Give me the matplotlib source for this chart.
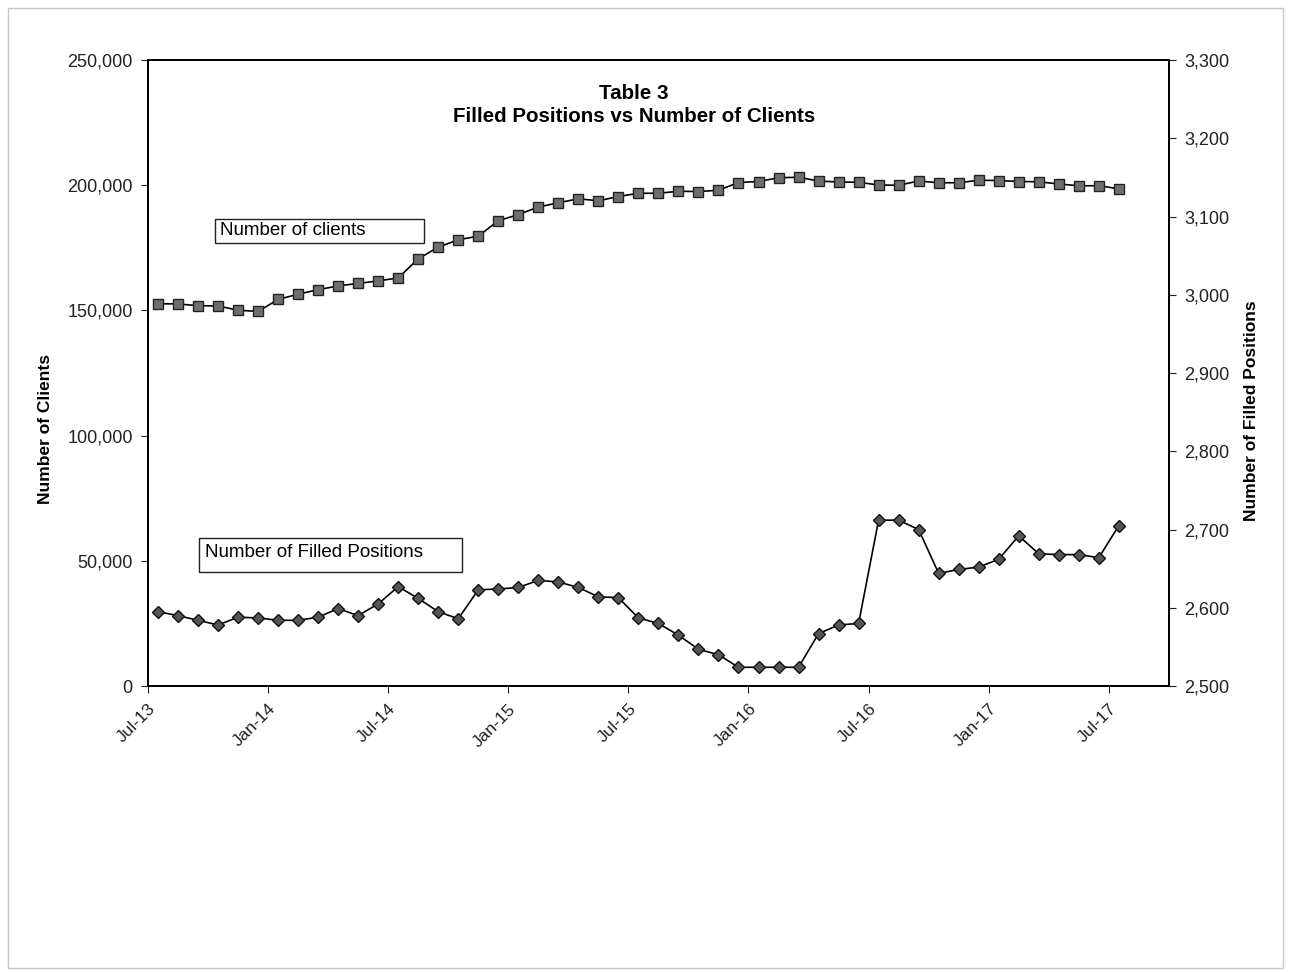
import matplotlib
matplotlib.use("Agg")
import matplotlib.pyplot as plt
from matplotlib.patches import Rectangle
from matplotlib.ticker import FuncFormatter

plt.rcParams['font.family'] = ['Liberation Sans', 'DejaVu Sans']

# monthly data, Jul-13 .. Jul-17
months = list(range(49))
tick_pos = [0, 6, 12, 18, 24, 30, 36, 42, 48]
tick_labels = ["Jul-13", "Jan-14", "Jul-14", "Jan-15", "Jul-15",
               "Jan-16", "Jul-16", "Jan-17", "Jul-17"]

clients = [152700, 152600, 151900, 151800, 150100, 149600, 154400, 156500,
           158300, 159800, 160800, 161800, 163000, 170600, 175300, 178200,
           179700, 185800, 188300, 191300, 193000, 194600, 193800, 195500,
           196800, 196800, 197600, 197500, 198000, 201100, 201500, 203000,
           203200, 201700, 201300, 201200, 200100, 200000, 201700, 201000,
           201000, 202000, 201900, 201500, 201400, 200500, 199800, 199800,
           198600]

filled = [2595, 2590, 2584, 2578, 2588, 2587, 2584, 2584, 2588, 2599, 2590,
          2605, 2627, 2612, 2595, 2586, 2623, 2624, 2626, 2635, 2633, 2626,
          2614, 2613, 2587, 2580, 2565, 2547, 2540, 2524, 2524, 2524, 2524,
          2567, 2578, 2580, 2712, 2712, 2700, 2644, 2649, 2652, 2662, 2692,
          2669, 2668, 2668, 2664, 2705]

fig = plt.figure(figsize=(12.89, 9.72), dpi=100)
ax = fig.add_axes([0.1148, 0.2942, 0.792, 0.6440])
ax2 = ax.twinx()

xs = [m + 0.5 for m in months]

ax.plot(xs, clients, color='black', lw=1.2, marker='s', markersize=7,
        markerfacecolor='#6e6e6e', markeredgecolor='#222222', markeredgewidth=1.0,
        zorder=3)
ax2.plot(xs, filled, color='black', lw=1.2, marker='D', markersize=6,
         markerfacecolor='#555555', markeredgecolor='#111111', markeredgewidth=1.0,
         zorder=3)

ax.set_xlim(0, 51)
ax.set_ylim(0, 250000)
ax2.set_ylim(2500, 3300)

ax.set_xticks(tick_pos)
ax.set_xticklabels(tick_labels, rotation=45, ha='right', rotation_mode='anchor',
                   fontsize=12.5, color='#222222')
ax.set_yticks(range(0, 250001, 50000))
ax.yaxis.set_major_formatter(FuncFormatter(lambda v, p: f"{v:,.0f}"))
ax2.set_yticks(range(2500, 3301, 100))
ax2.yaxis.set_major_formatter(FuncFormatter(lambda v, p: f"{v:,.0f}"))

for a in (ax, ax2):
    a.tick_params(axis='y', direction='out', length=5, width=0.8,
                  colors='#222222', labelsize=13, pad=6)
    a.tick_params(axis='x', direction='out', length=5, width=0.8,
                  colors='#222222', pad=6)
    for s in a.spines.values():
        s.set_linewidth(1.4)
        s.set_color('black')

ax.set_ylabel("Number of Clients", fontsize=12.5, fontweight='bold')
ax.yaxis.set_label_coords(-0.093, 0.41)
ax2.set_ylabel("Number of Filled Positions", fontsize=12.5, fontweight='bold',
               rotation=90)
ax2.yaxis.set_label_coords(1.074, 0.44)

ax.text(0.476, 0.962, "Table 3\nFilled Positions vs Number of Clients",
        transform=ax.transAxes, ha='center', va='top', fontsize=14.8,
        fontweight='bold', linespacing=1.25)

# series label boxes
ax.add_patch(Rectangle((0.0656, 0.708), 0.205, 0.038, transform=ax.transAxes,
                       facecolor='white', edgecolor='#222222', lw=1.0, zorder=4))
ax.text(0.0705, 0.727, "Number of clients", transform=ax.transAxes,
        ha='left', va='center', fontsize=13.5, zorder=5)
ax.add_patch(Rectangle((0.050, 0.182), 0.2575, 0.054, transform=ax.transAxes,
                       facecolor='white', edgecolor='#222222', lw=1.0, zorder=4))
ax.text(0.0555, 0.213, "Number of Filled Positions", transform=ax.transAxes,
        ha='left', va='center', fontsize=13.5, zorder=5)

# light outer frame like the scanned page
fig.patches.append(Rectangle((0.006, 0.004), 0.989, 0.988, transform=fig.transFigure,
                             fill=False, edgecolor='#c8c8c8', lw=1.0))

fig.savefig("out.png", dpi=100)
